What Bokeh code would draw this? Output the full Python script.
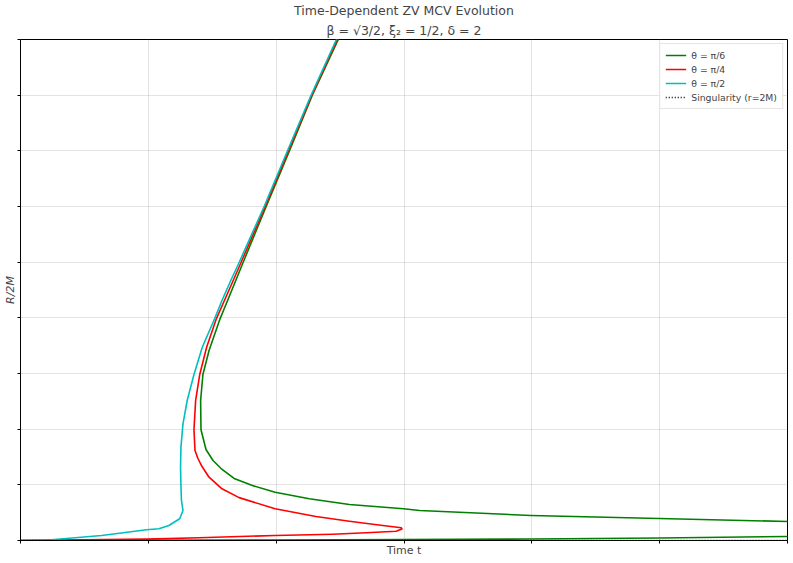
from bokeh.plotting import figure
from bokeh.models import Title, Legend, LegendItem, FixedTicker
from bokeh.embed import file_html
from bokeh.resources import INLINE

# Data (time t, R/2M)
cyan_t = [0.0, 0.243, 0.635, 0.986, 1.082, 1.161, 1.245, 1.271, 1.259, 1.255, 1.252, 1.255,
          1.271, 1.304, 1.357, 1.422, 1.518, 1.576, 1.645, 1.710, 1.906, 2.086, 2.272, 2.471, 2.52]
cyan_R = [0.0, 0.013, 0.090, 0.192, 0.210, 0.269, 0.390, 0.539, 0.719, 0.993, 1.317, 1.676,
          2.096, 2.515, 2.982, 3.472, 3.982, 4.311, 4.670, 4.994, 6.000, 6.988, 7.994, 9.0, 9.25]

red_t = [0.0, 0.988, 1.396, 1.992, 2.442, 2.704, 2.939, 2.984, 2.978, 2.834, 2.573, 2.311,
         1.992, 1.710, 1.576, 1.475, 1.420, 1.388, 1.365, 1.357, 1.370, 1.402, 1.456, 1.532,
         1.595, 1.664, 1.725, 1.914, 2.094, 2.278, 2.478, 2.53]
red_R = [0.0, 0.025, 0.049, 0.090, 0.113, 0.138, 0.167, 0.207, 0.228, 0.269, 0.347, 0.431,
         0.569, 0.770, 0.929, 1.137, 1.329, 1.473, 1.617, 1.989, 2.515, 2.982, 3.472, 3.982,
         4.311, 4.670, 4.994, 6.000, 6.988, 7.994, 9.0, 9.25]

green_t = [0.0, 0.988, 1.992, 2.988, 3.992, 4.996, 6.0, 6.1, float("nan"),
           6.1, 6.0, 4.996, 3.992, 3.122, 2.996, 2.573, 2.259, 1.992, 1.814, 1.671, 1.569,
           1.506, 1.451, 1.412, 1.409, 1.427, 1.475, 1.561, 1.620, 1.684, 1.741, 1.922,
           2.102, 2.282, 2.486, 2.54]
green_R = [0.0, 0.004, 0.009, 0.018, 0.027, 0.045, 0.072, 0.075, float("nan"),
           0.338, 0.341, 0.395, 0.449, 0.539, 0.569, 0.647, 0.749, 0.868, 0.988, 1.114, 1.293,
           1.437, 1.635, 1.989, 2.515, 2.982, 3.413, 3.982, 4.311, 4.670, 4.994, 6.000,
           6.988, 7.994, 9.0, 9.25]

sing_t = [0.0, 6.0]
sing_R = [0.0, 0.0]

x_ticks = [0, 1, 2, 3, 4, 5, 6]
y_ticks = [0, 1, 2, 3, 4, 5, 6, 7, 8, 9]

FONT = "DejaVu Sans"

p = figure(width=793, height=563, x_range=(0, 6), y_range=(0, 9),
           output_backend="svg", toolbar_location=None, title=None,
           min_border_left=0, min_border_right=6, min_border_top=0, min_border_bottom=23)

sub = Title(text="β = √3/2, ξ₂ = 1/2, δ = 2", align="center", text_font=FONT,
            text_font_size="12.5px", text_font_style="normal", standoff=4)
main = Title(text="Time-Dependent ZV MCV Evolution", align="center", text_font=FONT,
             text_font_size="12.5px", text_font_style="normal", standoff=1)
p.add_layout(sub, "above")
p.add_layout(main, "above")

p.outline_line_color = "black"
p.outline_line_width = 1

for ax in (p.xaxis, p.yaxis):
    ax.major_label_text_font_size = "1px"
    ax.major_label_text_color = None
    ax.major_label_standoff = 0
    ax.minor_tick_line_color = None
    ax.major_tick_out = 3
    ax.major_tick_in = 0
    ax.axis_line_color = "black"
    ax.major_tick_line_color = "black"
    ax.axis_label_text_font = FONT
    ax.axis_label_text_font_size = "11px"
    ax.axis_label_standoff = 1

p.xaxis.axis_label_standoff = 0
p.xaxis.ticker = FixedTicker(ticks=x_ticks)
p.yaxis.ticker = FixedTicker(ticks=y_ticks)
p.xaxis.axis_label = "Time t"
p.yaxis.axis_label = "R/2M"
p.xaxis.axis_label_text_font_style = "normal"
p.yaxis.axis_label_text_font_style = "italic"

p.grid.grid_line_color = "#b0b0b0"
p.grid.grid_line_alpha = 0.35
p.xgrid.ticker = FixedTicker(ticks=x_ticks)
p.ygrid.ticker = FixedTicker(ticks=y_ticks)

g = p.line(green_t, green_R, line_color="#008000", line_width=1.6, line_join="round")
r = p.line(red_t, red_R, line_color="#ff0000", line_width=1.6, line_join="round")
c = p.line(cyan_t, cyan_R, line_color="#00bfbf", line_width=1.6, line_join="round")
s = p.line(sing_t, sing_R, line_color="black", line_width=1.5, line_dash="1 2")

legend = Legend(items=[
    LegendItem(label="θ = π/6", renderers=[g]),
    LegendItem(label="θ = π/4", renderers=[r]),
    LegendItem(label="θ = π/2", renderers=[c]),
    LegendItem(label="Singularity (r=2M)", renderers=[s]),
], location="top_right")
legend.label_text_font = FONT
legend.label_text_font_size = "9.3px"
legend.glyph_width = 21
legend.glyph_height = 12
legend.label_height = 12
legend.spacing = 2
legend.padding = 5
legend.margin = 4
legend.border_line_color = "#cccccc"
legend.border_line_width = 1
legend.background_fill_alpha = 0.9
p.add_layout(legend)

open("out.html", "w").write(file_html(p, INLINE))
